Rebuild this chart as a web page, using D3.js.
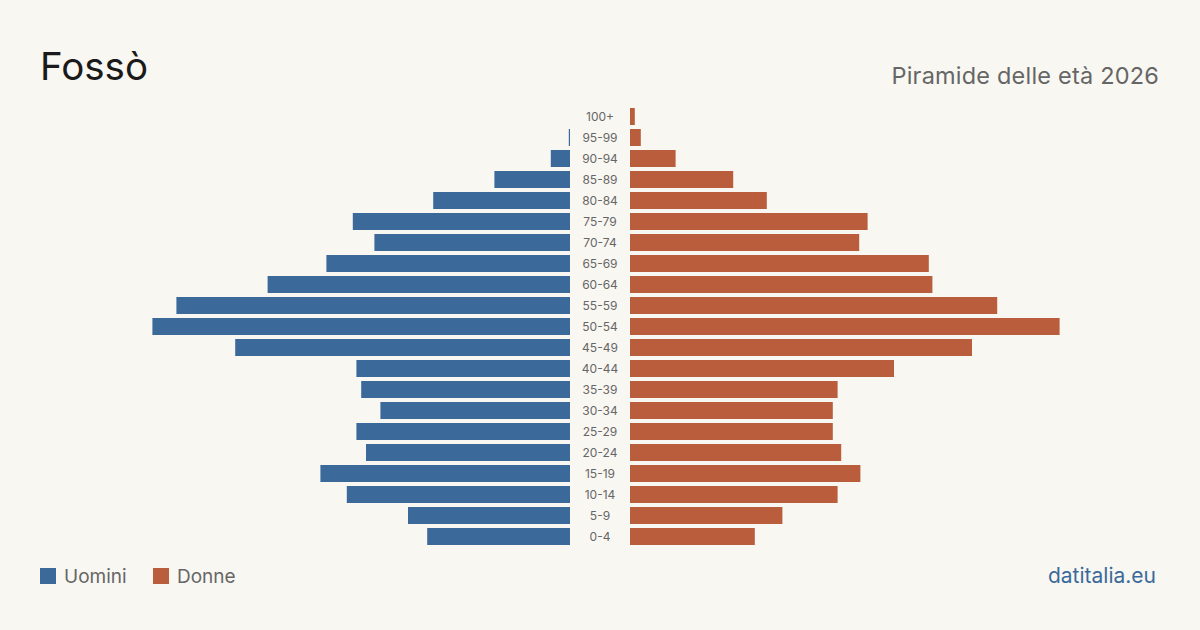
<!DOCTYPE html>
<html><head><meta charset="utf-8">
<script src="https://cdn.jsdelivr.net/npm/d3@7"></script>
<style>
html,body{margin:0;padding:0;background:#f9f7f2;}
svg{display:block;font-family:Inter, "Noto Sans", sans-serif;}
</style></head>
<body><svg id="c" width="1200" height="630"></svg>
<script>
const ageGroups = ["100+","95-99","90-94","85-89","80-84","75-79","70-74","65-69","60-64","55-59","50-54","45-49","40-44","35-39","30-34","25-29","20-24","15-19","10-14","5-9","0-4"];
const men   = [0, 1, 16, 63, 114, 181, 163, 203, 252, 328, 348, 279, 178, 174, 158, 178, 170, 208, 186, 135, 119];
const women = [4, 9, 38, 86, 114, 198, 191, 249, 252, 306, 358, 285, 220, 173, 169, 169, 176, 192, 173, 127, 104];
const seriesNames = ["Uomini","Donne"];
const colors = ["#3b6a9a","#b95d3d"];

const svg = d3.select("#c");
const y = d3.scaleBand().domain(ageGroups).range([106, 547]).paddingInner(4/21).paddingOuter(2/21);
const xL = d3.scaleLinear().domain([0, 400]).range([570, 90]);
const xR = d3.scaleLinear().domain([0, 400]).range([630, 1110]);

svg.append("g").selectAll("rect").data(ageGroups).join("rect")
  .attr("x", (d,i)=>xL(men[i])).attr("y", d=>y(d))
  .attr("width", (d,i)=>xL(0)-xL(men[i])).attr("height", y.bandwidth())
  .attr("fill", colors[0]);
svg.append("g").selectAll("rect").data(ageGroups).join("rect")
  .attr("x", xR(0)).attr("y", d=>y(d))
  .attr("width", (d,i)=>xR(women[i])-xR(0)).attr("height", y.bandwidth())
  .attr("fill", colors[1]);
svg.append("g").selectAll("text").data(ageGroups).join("text")
  .attr("x", 600).attr("y", d=>y(d)+y.bandwidth()/2)
  .attr("dy","0.35em").attr("text-anchor","middle")
  .attr("font-size", 12).attr("fill","#666").text(d=>d);

svg.append("text").attr("x", 40).attr("y", 80).attr("font-size", 38.5).attr("fill","#1a1a1a").text("Fossò");
svg.append("text").attr("x", 1159).attr("y", 84).attr("text-anchor","end").attr("font-size", 23.5).attr("letter-spacing", 0.2).attr("fill","#666").text("Piramide delle età 2026");

const lg = svg.append("g");
const lx = [40, 153];
seriesNames.forEach((n,i)=>{
  lg.append("rect").attr("x", lx[i]).attr("y", 568).attr("width",16).attr("height",16).attr("fill",colors[i]);
  lg.append("text").attr("x", lx[i]+24).attr("y", 583).attr("font-size",19).attr("fill","#666").text(n);
});
svg.append("text").attr("x", 1156).attr("y", 583).attr("text-anchor","end").attr("font-size",21).attr("fill","#3b6a9a").text("datitalia.eu");
</script></body></html>
